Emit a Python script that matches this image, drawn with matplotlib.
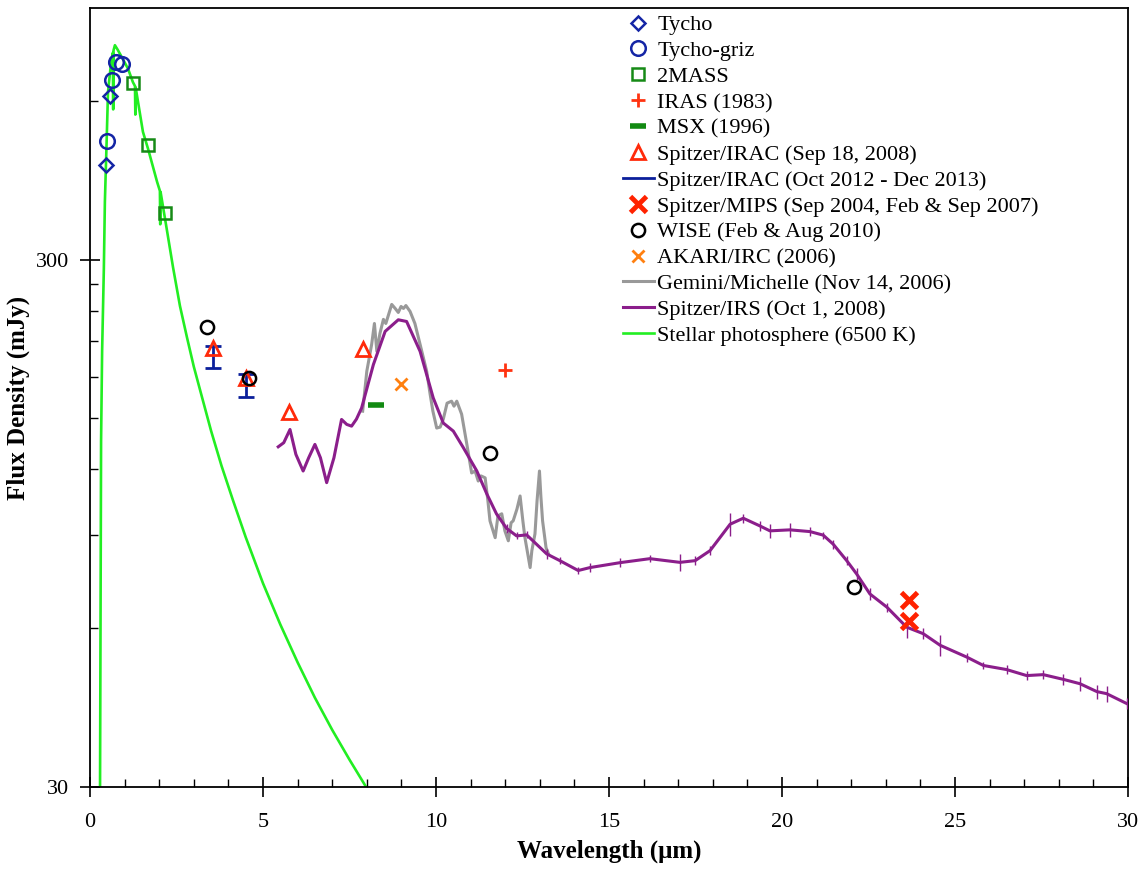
import matplotlib
matplotlib.use('Agg')
import matplotlib.pyplot as plt
from matplotlib.lines import Line2D
from matplotlib.ticker import FixedLocator, FixedFormatter, MultipleLocator, NullFormatter
import numpy as np

plt.rcParams['font.family'] = ['Liberation Serif', 'DejaVu Serif']

# --- photometry (wavelength in micron, flux density in mJy) ---
tycho_wave = [0.45, 0.58]
tycho_flux = [454, 613]
griz_wave = [0.48, 0.63, 0.74, 0.92]
griz_flux = [503, 656, 712, 705]
tmass_wave = [1.25, 1.68, 2.17]
tmass_flux = [648, 494, 367]
iras_wave = [12.0]
iras_flux = [185]
msx_wave = [8.28]
msx_flux = [159]
irac08_wave = [3.56, 4.51, 5.75, 7.88]
irac08_flux = [204, 179, 154, 203]
irac13_wave = [3.55, 4.50]
irac13_low = [187, 165]
irac13_high = [206, 182]
mips_wave = [23.68, 23.68]
mips_flux = [68, 61.8]
wise_wave = [3.37, 4.60, 11.56, 22.08]
wise_flux = [224, 179, 129, 71.9]
akari_wave = [9.0]
akari_flux = [174]

# --- Gemini/Michelle spectrum ---
gem_wave = [7.88, 8.00, 8.14, 8.22, 8.29, 8.38, 8.48, 8.55, 8.72, 8.82,
            8.91, 8.99, 9.06, 9.13, 9.25, 9.39, 9.54, 9.73, 9.83, 9.91,
            10.02, 10.12, 10.21, 10.32, 10.45, 10.52, 10.60, 10.74, 10.89, 11.03,
            11.13, 11.22, 11.30, 11.42, 11.50, 11.56, 11.71, 11.79, 11.90, 11.99,
            12.09, 12.17, 12.23, 12.34, 12.43, 12.51, 12.57, 12.66, 12.72, 12.77,
            12.86, 12.92, 12.99, 13.03, 13.08, 13.18, 13.25]
gem_flux = [154.8, 184.3, 207.2, 227.0, 201.0, 217.4, 231.1, 227.0, 246.7, 242.4,
            238.2, 244.5, 242.4, 245.5, 239.3, 227.0, 207.2, 184.3, 166.7, 154.8,
            143.8, 144.4, 149.5, 160.3, 161.7, 158.2, 161.7, 152.8, 134.1, 118.2,
            119.2, 114.1, 116.7, 115.7, 104.6, 95.9, 89.1, 98.0, 98.9, 91.8,
            87.9, 95.1, 95.9, 101.0, 106.9, 95.9, 89.1, 82.4, 78.2, 84.2,
            90.6, 104.6, 119.2, 106.9, 95.9, 85.3, 83.1]

# --- Spitzer/IRS spectrum ---
irs_wave = [5.44, 5.60, 5.78, 5.95, 6.16, 6.32, 6.50, 6.66, 6.84, 7.05,
            7.27, 7.42, 7.56, 7.70, 7.85, 8.19, 8.53, 8.91, 9.15, 9.54,
            9.92, 10.21, 10.50, 10.79, 11.18, 11.47, 11.75, 12.04, 12.33, 12.62,
            13.20, 13.58, 14.11, 14.45, 15.32, 16.18, 17.05, 17.49, 17.92, 18.50,
            18.88, 19.36, 19.65, 20.23, 20.81, 21.19, 21.48, 21.87, 22.16, 22.54,
            23.03, 23.60, 24.08, 24.57, 25.34, 25.82, 26.49, 27.07, 27.55, 28.13,
            28.61, 29.10, 29.38, 29.96]
irs_flux = [132.5, 134.9, 142.9, 128.2, 119.2, 126.3, 133.9, 126.3, 113.3, 126.3,
            149.3, 146.1, 145.0, 149.5, 157.0, 189.7, 219.3, 230.7, 229.0, 201.0,
            164.0, 147.0, 141.9, 132.0, 119.2, 107.8, 98.8, 92.8, 89.8, 90.2,
            83.0, 80.6, 77.2, 78.2, 79.9, 81.3, 80.0, 80.6, 84.2, 94.5,
            97.0, 93.8, 91.8, 92.2, 91.5, 90.1, 86.6, 80.6, 76.0, 69.7,
            65.8, 60.3, 58.6, 55.7, 52.9, 51.0, 50.1, 48.8, 49.0, 48.0,
            47.1, 45.5, 45.1, 43.2]
# fractional uncertainty (small vertical ticks on the curve)
irs_err = [0] * 27 + [0.02, 0.015, 0.015, 0.02, 0.015, 0.015, 0.02, 0.02, 0.015, 0.035,
                      0.02, 0.02, 0.05, 0.02, 0.02, 0.03, 0.03, 0.02, 0.015, 0.02,
                      0.02, 0.025, 0.025, 0.02, 0.045, 0.025, 0.045, 0.02, 0.015, 0.02,
                      0.02, 0.02, 0.025, 0.03, 0.03, 0.035, 0.025]

# --- stellar photosphere model (6500 K) ---
phot_wave = [0.29, 0.32, 0.35, 0.40, 0.43, 0.48, 0.52, 0.61, 0.66, 0.67,
             0.68, 0.72, 0.80, 0.95, 1.10, 1.24, 1.30, 1.31, 1.32, 1.53,
             1.68, 1.94, 2.02, 2.03, 2.04, 2.23, 2.40, 2.60, 2.80, 3.0,
             3.2, 3.5, 3.8, 4.13, 4.5, 5.0, 5.5, 6.0, 6.5, 7.0,
             7.5, 7.98]
phot_flux = [30, 136, 201, 288, 386, 501, 623, 710, 740, 578,
             748, 765, 750, 720, 690, 651, 640, 565, 636, 524,
             486, 421, 405, 350, 403, 339, 290, 245, 214, 188,
             168, 142, 122, 105, 89.3, 73, 61, 51.7, 44.3, 38.5,
             33.8, 30]

c_blue = '#1425a5'
c_green = '#168a16'
c_red = '#ff2a0a'


def draw(output_path):
    fig = plt.figure(figsize=(11.48, 8.77), dpi=100)
    ax = fig.add_axes([0.0784, 0.1026, 0.9042, 0.8883])

    # spectra
    ax.plot(phot_wave, phot_flux, color='#22ee22', lw=1.9, zorder=2)
    ax.plot(gem_wave, gem_flux, color='#999999', lw=2.2, zorder=3)
    ax.plot(irs_wave, irs_flux, color='#8b1e8b', lw=2.2, zorder=4)
    irs_f = np.array(irs_flux)
    ax.errorbar(irs_wave, irs_flux, yerr=irs_f * np.array(irs_err), fmt='none',
                ecolor='#8b1e8b', elinewidth=1.0, capsize=0, zorder=4)

    # photometry
    ax.plot(tycho_wave, tycho_flux, 'D', ms=7.5, mfc='none', mec=c_blue, mew=1.8, zorder=6)
    ax.plot(griz_wave, griz_flux, 'o', ms=10.5, mfc='none', mec=c_blue, mew=1.8, zorder=6)
    ax.plot(tmass_wave, tmass_flux, 's', ms=8.5, mfc='none', mec=c_green, mew=1.8, zorder=6)
    ax.plot(iras_wave, iras_flux, '+', ms=10, color='#ff3311', mew=2.0, zorder=6)
    ax.plot(msx_wave, msx_flux, '_', ms=12, color='#128a12', mew=4, zorder=6)
    ax.errorbar(irac13_wave, irac13_low,
                yerr=[np.zeros(len(irac13_low)), np.array(irac13_high) - np.array(irac13_low)],
                fmt='none', ecolor='#0b1f9b', elinewidth=2, capsize=6, capthick=2, zorder=5)
    ax.plot(irac08_wave, irac08_flux, '^', ms=10, mfc='none', mec=c_red, mew=2.0, zorder=6)
    ax.plot(mips_wave, mips_flux, 'x', ms=11, color='#ff2200', mew=3.5, zorder=6)
    ax.plot(wise_wave, wise_flux, 'o', ms=9.5, mfc='none', mec='black', mew=1.8, zorder=7)
    ax.plot(akari_wave, akari_flux, 'x', ms=9, color='#ff8010', mew=2.0, zorder=6)

    # axes
    ax.set_yscale('log')
    ax.set_xlim(0, 30)
    ax.set_ylim(30, 900)
    ax.yaxis.set_major_locator(FixedLocator([30, 300]))
    ax.yaxis.set_major_formatter(FixedFormatter(['30', '300']))
    ax.yaxis.set_minor_locator(FixedLocator([60, 90, 120, 150, 180, 210, 240, 270, 600]))
    ax.yaxis.set_minor_formatter(NullFormatter())
    ax.xaxis.set_major_locator(MultipleLocator(5))
    ax.xaxis.set_minor_locator(MultipleLocator(1))
    ax.tick_params(which='major', direction='inout', length=14, width=1.2, labelsize=16)
    ax.tick_params(which='minor', direction='in', length=6, width=1.0)
    ax.tick_params(axis='x', which='major', pad=12)
    ax.tick_params(axis='y', which='major', pad=8)
    for s in ax.spines.values():
        s.set_linewidth(1.3)

    ax.set_xlabel('Wavelength (μm)', fontsize=18, fontweight='bold', labelpad=5)
    ax.set_ylabel('Flux Density (mJy)', fontsize=18, fontweight='bold', labelpad=4)

    # legend
    handles = [
        Line2D([], [], ls='none', marker='D', ms=7.5, mfc='none', mec=c_blue, mew=1.8),
        Line2D([], [], ls='none', marker='o', ms=10.5, mfc='none', mec=c_blue, mew=1.8),
        Line2D([], [], ls='none', marker='s', ms=8.5, mfc='none', mec=c_green, mew=1.8),
        Line2D([], [], ls='none', marker='+', ms=10, color='#ff3311', mew=2.0),
        Line2D([], [], ls='none', marker='_', ms=12, color='#128a12', mew=4),
        Line2D([], [], ls='none', marker='^', ms=10, mfc='none', mec=c_red, mew=2.0),
        Line2D([], [], color='#0b1f9b', lw=2),
        Line2D([], [], ls='none', marker='x', ms=11, color='#ff2200', mew=3.5),
        Line2D([], [], ls='none', marker='o', ms=9.5, mfc='none', mec='black', mew=1.8),
        Line2D([], [], ls='none', marker='x', ms=9, color='#ff8010', mew=2.0),
        Line2D([], [], color='#999999', lw=2.2),
        Line2D([], [], color='#8b1e8b', lw=2.2),
        Line2D([], [], color='#22ee22', lw=1.9),
    ]
    labels = ['Tycho', 'Tycho-griz', '2MASS', 'IRAS (1983)', 'MSX (1996)',
              'Spitzer/IRAC (Sep 18, 2008)', 'Spitzer/IRAC (Oct 2012 - Dec 2013)',
              'Spitzer/MIPS (Sep 2004, Feb & Sep 2007)', 'WISE (Feb & Aug 2010)',
              'AKARI/IRC (2006)', 'Gemini/Michelle (Nov 14, 2006)',
              'Spitzer/IRS (Oct 1, 2008)', 'Stellar photosphere (6500 K)']
    ax.legend(handles, labels, loc='upper left', bbox_to_anchor=(0.509, 0.997),
              frameon=False, fontsize=16, handlelength=1.4, handletextpad=0.15,
              labelspacing=0.24, borderpad=0.2, borderaxespad=0.0)

    fig.savefig(output_path, dpi=100)
    plt.close(fig)


if __name__ == '__main__':
    draw('out.png')
